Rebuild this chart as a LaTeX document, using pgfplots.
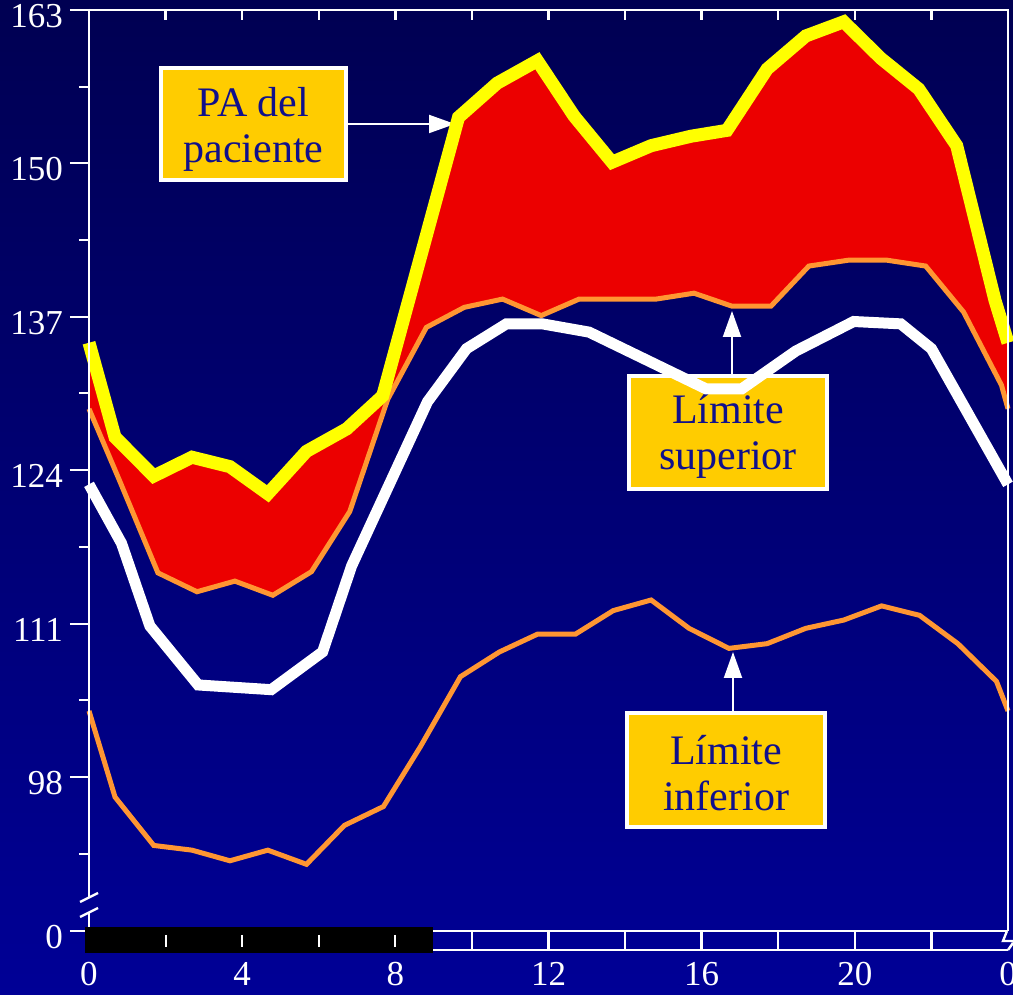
\documentclass[border=0pt]{standalone}
\usepackage{pgfplots}
\pgfplotsset{compat=1.18}
\usetikzlibrary{arrows.meta}
\usepackage{fontspec}
\setmainfont{Liberation Serif}
\definecolor{bgtop}{RGB}{0,0,82}
\definecolor{bgbot}{RGB}{0,0,150}
\definecolor{boxyellow}{RGB}{255,204,0}
\definecolor{boxtext}{RGB}{16,16,140}
\definecolor{pared}{RGB}{236,0,0}
\definecolor{limorange}{RGB}{255,150,50}
\definecolor{payellow}{RGB}{255,255,0}

% PA del paciente
\pgfplotstableread{
x y
0 134.8
0.68 126.8
1.69 123.5
2.69 125.1
3.68 124.3
4.67 122.0
5.68 125.6
6.73 127.5
7.67 130.3
8.66 142.1
9.65 153.9
10.66 156.8
11.71 158.7
12.67 154.0
13.66 150.1
14.68 151.5
15.72 152.3
16.66 152.8
17.71 158.0
18.72 160.8
19.71 162.0
20.68 158.9
21.67 156.3
22.66 151.5
23.66 138.4
24 134.8
}\patable

% Limite superior
\pgfplotstableread{
x y
0 129.2
0.80 123.1
1.80 115.3
2.82 113.7
3.81 114.6
4.80 113.4
5.81 115.4
6.81 120.5
7.80 130.0
8.81 136.1
9.80 137.8
10.80 138.5
11.81 137.1
12.80 138.5
13.80 138.5
14.81 138.5
15.80 139.0
16.79 137.9
17.81 137.9
18.80 141.3
19.84 141.8
20.83 141.8
21.85 141.3
22.84 137.4
23.83 131.2
24 129.2
}\suptable

% excess area: PA forward, then Limite superior backward
\pgfplotstableread{
x y
0 134.8
0.68 126.8
1.69 123.5
2.69 125.1
3.68 124.3
4.67 122.0
5.68 125.6
6.73 127.5
7.67 130.3
8.66 142.1
9.65 153.9
10.66 156.8
11.71 158.7
12.67 154.0
13.66 150.1
14.68 151.5
15.72 152.3
16.66 152.8
17.71 158.0
18.72 160.8
19.71 162.0
20.68 158.9
21.67 156.3
22.66 151.5
23.66 138.4
24 134.8
24 129.2
23.83 131.2
22.84 137.4
21.85 141.3
20.83 141.8
19.84 141.8
18.80 141.3
17.81 137.9
16.79 137.9
15.80 139.0
14.81 138.5
13.80 138.5
12.80 138.5
11.81 137.1
10.80 138.5
9.80 137.8
8.81 136.1
7.80 130.0
6.81 120.5
5.81 115.4
4.80 113.4
3.81 114.6
2.82 113.7
1.80 115.3
0.80 123.1
0 129.2
}\areatable

% Limite inferior
\pgfplotstableread{
x y
0 103.6
0.68 96.3
1.69 92.2
2.69 91.8
3.68 90.9
4.67 91.8
5.68 90.6
6.67 93.9
7.69 95.5
8.66 100.6
9.70 106.5
10.72 108.6
11.71 110.1
12.70 110.1
13.69 112.1
14.68 113.0
15.67 110.6
16.71 108.9
17.71 109.3
18.72 110.6
19.71 111.3
20.70 112.5
21.69 111.7
22.69 109.3
23.70 106.1
24 103.6
}\inftable

% media
\pgfplotstableread{
x y
0 122.8
0.85 117.8
1.59 110.8
2.85 105.8
4.76 105.4
6.10 108.6
6.86 115.9
8.84 129.8
9.86 134.3
10.90 136.4
11.84 136.4
13.06 135.7
16.11 130.9
17.05 130.9
18.46 134.1
19.97 136.6
21.20 136.4
22.00 134.3
24 122.8
}\meantable

\begin{document}
\begin{tikzpicture}
\shade[top color=bgtop, bottom color=bgbot] (0,0) rectangle (506.5pt,497.5pt);

\begin{scope}[shift={(0pt,497.5pt)}, x=0.5pt, y=-0.5pt]
  \draw[white, line width=2pt, fill=boxyellow] (161,68) rectangle (346,180);
  \node[text=boxtext, align=center, font=\fontsize{21}{23}\selectfont] at (253.5,129) {PA del\\paciente};
  \draw[white, line width=2pt, fill=boxyellow] (629,376) rectangle (827,489);
  \node[text=boxtext, align=center, font=\fontsize{21}{23}\selectfont] at (728,436) {Límite\\superior};
  \draw[white, line width=2pt, fill=boxyellow] (627,713) rectangle (825,827);
  \node[text=boxtext, align=center, font=\fontsize{21}{23}\selectfont] at (726,773) {Límite\\inferior};
  \draw[white, line width=1pt, -{Triangle[length=13pt,width=9pt]}] (348,124) -- (455,124);
  \draw[white, line width=1pt, -{Triangle[length=13pt,width=9pt]}] (732,374) -- (732,311);
  \draw[white, line width=1pt, -{Triangle[length=13pt,width=9pt]}] (733,711) -- (733,652);
\end{scope}

\begin{axis}[
  at={(44.5pt,32pt)}, anchor=south west,
  scale only axis, width=459.5pt, height=460.5pt,
  xmin=0, xmax=24, ymin=84.95, ymax=163,
  clip=false,
  axis line style={draw=none},
  tick align=outside,
  xtick={0,4,8,12,16,20,24}, xticklabels={0,4,8,12,16,20,0},
  ytick={84.95,98,111,124,137,150,163},
  yticklabels={0,98,111,124,137,150,\raisebox{-3pt}{163}},
  minor ytick={91.5,104.5,117.5,130.5,143.5,156.5},
  xtick pos=bottom, ytick pos=left,
  x tick style={draw=none},
  y tick style={white, line width=1pt},
  major tick length=9.5pt, minor tick length=5pt,
  ticklabel style={font=\fontsize{17.5}{17.5}\selectfont, text=white},
  yticklabel style={yshift=-3pt},
  xticklabel style={yshift=-2.5pt},
  /pgf/number format/assume math mode=true,
]
\addplot[fill=pared, draw=none] table {\areatable} -- cycle;
\addplot[limorange, line width=2.5pt] table {\inftable};
\addplot[limorange, line width=2.5pt] table {\suptable};
\addplot[white, line width=5.5pt] table {\meantable};
\addplot[payellow, line width=6.5pt] table {\patable};
\end{axis}

\begin{scope}[shift={(0pt,497.5pt)}, x=0.5pt, y=-0.5pt]
  \draw[white, line width=1.2pt] (89,9) -- (89,898) (89,912) -- (89,931);
  \draw[white, line width=1.2pt] (80,902) -- (98,893) (80,917) -- (98,908);
  \draw[white, line width=1.2pt] (88.4,10) -- (1008,10) -- (1008,931);
  \foreach \k in {1,...,11} \draw[white, line width=1.2pt] ({89+76.58*\k},10) -- ++(0,10);
  \draw[white, line width=1.2pt] (433,931) -- (1007,931) (433,950) -- (1008,950);
  \foreach \k in {10,12,...,22} \draw[white, line width=1.2pt] ({89+38.29*\k},931) -- ++(0,19);
  \draw[white, line width=1.2pt] (1007,931) -- (1003,941) -- (1013,941) (1008,950) -- (1013,943);
  \fill[black] (85,927) rectangle (433,953);
  \foreach \k in {2,4,6,8} \draw[white, line width=1pt] ({89+38.29*\k},935) -- ++(0,12);
\end{scope}
\pgfresetboundingbox
\path[use as bounding box] (0,0) rectangle (506.5pt,497.5pt);
\end{tikzpicture}
\end{document}
